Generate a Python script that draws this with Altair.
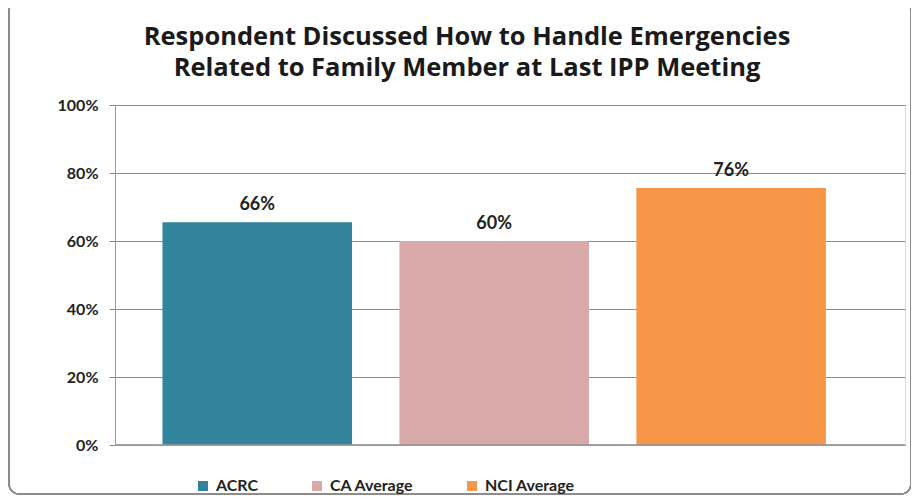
import altair as alt
import pandas as pd

categories = ["ACRC", "CA Average", "NCI Average"]
values = [65.5, 60, 75.6]
labels = ["66%", "60%", "76%"]
colors = ["#31849B", "#D9A9AA", "#F79646"]
title_lines = ["Respondent Discussed How to Handle Emergencies",
               "Related to Family Member at Last IPP Meeting"]

df = pd.DataFrame({"cat": categories, "val": values, "lab": labels})

FONT = "Lato"
TFONT = "Open Sans"

x = alt.X("cat:N", sort=categories, axis=None,
          scale=alt.Scale(paddingInner=0.2, paddingOuter=0.267, align=0.375))
y = alt.Y("val:Q", scale=alt.Scale(domain=[0, 100]),
          axis=alt.Axis(values=[0, 20, 40, 60, 80, 100], labelExpr="datum.value + '%'",
                        title=None, labelFont=FONT, labelFontWeight="bold", labelFontSize=16,
                        labelColor="#222", labelPadding=11, tickSize=6, tickColor="#888",
                        domainColor="#999", gridColor="#8c8c8c", gridWidth=1))

bars = alt.Chart(df).mark_bar().encode(
    x=x, y=y,
    color=alt.Color("cat:N", sort=categories,
                    scale=alt.Scale(domain=categories, range=colors),
                    legend=alt.Legend(title=None, orient="none", direction="horizontal",
                                      legendX=80, legendY=373, symbolType="square",
                                      symbolSize=100, symbolStrokeWidth=0,
                                      labelFont=FONT, labelFontWeight="bold", labelFontSize=16,
                                      labelColor="#222", columnPadding=50, labelOffset=5))
)

text = alt.Chart(df).mark_text(dy=-8, baseline="bottom", font=FONT, fontWeight="bold",
                               fontSize=18, color="#222").encode(
    x=alt.X("cat:N", sort=categories), y="val:Q", text="lab:N")

border = alt.Chart(df).mark_rect(fill=None, stroke="#8a8a8a", strokeWidth=1.5,
                                 cornerRadius=10).encode(
    x=alt.value(-106), x2=alt.value(796), y=alt.value(-104), y2=alt.value(389))

axisline = alt.Chart(df).mark_rule(color="#999").encode(
    x=alt.value(0), x2=alt.value(790), y=alt.value(340))

t1 = alt.Chart(pd.DataFrame({"t": [title_lines[0]]})).mark_text(
    font=TFONT, fontSize=25.5, fontWeight="bold", color="#1a1a1a", baseline="middle",
    align="center").encode(x=alt.value(352), y=alt.value(-68), text="t:N")
t2 = alt.Chart(pd.DataFrame({"t": [title_lines[1]]})).mark_text(
    font=TFONT, fontSize=25.5, fontWeight="bold", color="#1a1a1a", baseline="middle",
    align="center").encode(x=alt.value(352), y=alt.value(-37), text="t:N")

chart = alt.layer(border, bars, axisline, text, t1, t2).properties(
    width=790, height=340,
    autosize=alt.AutoSizeParams(type="none"),
    padding={"left": 107, "top": 97, "right": 6, "bottom": 50},
).configure_view(fill="#EBEBEB", stroke=None).configure(background="white")

chart.save("out.html", embed_options={"renderer": "svg", "actions": False})
